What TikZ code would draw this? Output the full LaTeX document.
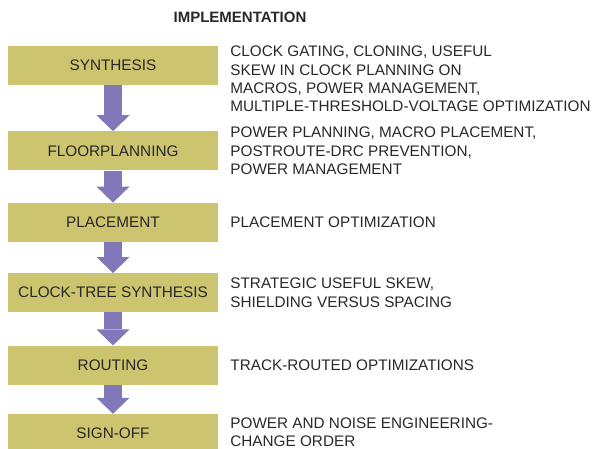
\documentclass[tikz,border=0pt]{standalone}
\usepackage{fontspec}
\setmainfont{Liberation Sans}
\usetikzlibrary{arrows.meta,positioning}
\definecolor{stagefill}{RGB}{204,196,110}
\definecolor{flowfill}{RGB}{128,120,184}
\definecolor{inktext}{RGB}{40,40,40}

\begin{document}
\begin{tikzpicture}[
  x=1pt, y=-1pt,
  stage/.style={fill=stagefill, minimum width=210pt, minimum height=39pt,
    inner sep=0pt, text=inktext, font=\fontsize{15.3}{18.4}\selectfont},
  note/.style={inner sep=0pt, align=left, text=inktext,
    font=\fontsize{15.3}{18.4}\selectfont},
  flow/.style={draw=flowfill, line width=18pt,
    -{Triangle[length=16pt, width=33pt, line width=0pt]}}
]
\clip (0,0) rectangle (594,448);

% Heading
\node[text=inktext, font=\bfseries\fontsize{15}{18}\selectfont] (head) at (240,17) {IMPLEMENTATION};

% Design stages
\node[stage] (synth) at (113,65.5) {SYNTHESIS};
\node[stage, below=46pt of synth] (floor) {FLOORPLANNING};
\node[stage, below=32pt of floor] (place) {PLACEMENT};
\node[stage, below=31pt of place] (cts) {CLOCK-TREE SYNTHESIS};
\node[stage, below=33pt of cts] (route) {ROUTING};
\node[stage, below=29pt of route] (sign) {SIGN-OFF};

% Flow between stages
\draw[flow] (synth) -- (floor);
\draw[flow] (floor) -- (place);
\draw[flow] (place) -- (cts);
\draw[flow] (cts) -- (route);
\draw[flow] (route) -- (sign);

% Optimizations at each stage
\node[note, right=12pt of synth.north east, anchor=north west] (synthnote)
  {CLOCK GATING, CLONING, USEFUL\\SKEW IN CLOCK PLANNING ON\\MACROS, POWER MANAGEMENT,\\MULTIPLE-THRESHOLD-VOLTAGE OPTIMIZATION};
\node[note, right=12pt of floor] (floornote)
  {POWER PLANNING, MACRO PLACEMENT,\\POSTROUTE-DRC PREVENTION,\\POWER MANAGEMENT};
\node[note, right=12pt of place] (placenote) {PLACEMENT OPTIMIZATION};
\node[note, right=12pt of cts] (ctsnote)
  {STRATEGIC USEFUL SKEW,\\SHIELDING VERSUS SPACING};
\node[note, right=12pt of route] (routenote) {TRACK-ROUTED OPTIMIZATIONS};
\node[note, right=12pt of sign, yshift=1.5pt] (signnote)
  {POWER AND NOISE ENGINEERING-\\CHANGE ORDER};

\end{tikzpicture}
\end{document}
